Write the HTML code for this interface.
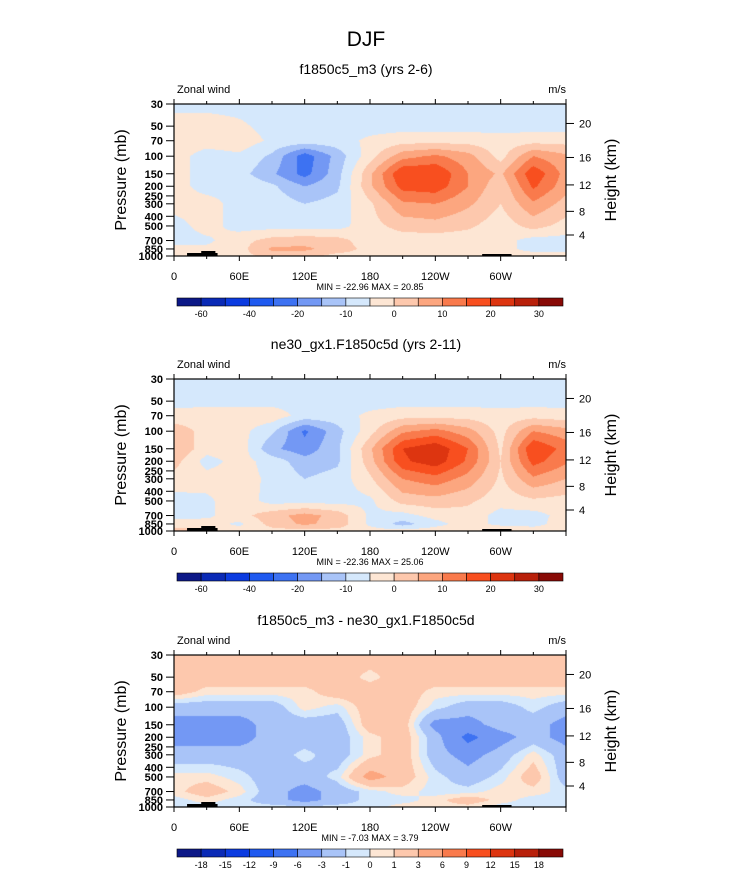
<!DOCTYPE html>
<html><head><meta charset="utf-8"><style>
body{margin:0;background:#fff;width:733px;height:888px;overflow:hidden;position:relative;font-family:"Liberation Sans",sans-serif}
canvas{position:absolute}
svg{position:absolute;left:0;top:0}
</style></head><body>
<div id="root"></div>
<svg id="svg" width="733" height="888"></svg>
<script>
// ---- data ----
const lons = [0,30,60,90,120,150,180,210,240,270,300,330,360];
const pressures = [30,50,70,100,150,200,300,500,700,850,1000];
const panelTitles = ["f1850c5_m3 (yrs 2-6)","ne30_gx1.F1850c5d (yrs 2-11)","f1850c5_m3 - ne30_gx1.F1850c5d"];
const minMaxLabels = ["MIN = -22.96  MAX =  20.85","MIN = -22.36  MAX =  25.06","MIN =  -7.03  MAX =   3.79"];
const levelsAbs = [-60,-50,-40,-30,-20,-15,-10,-5,0,5,10,15,20,25,30];
const levelsDiff = [-18,-15,-12,-9,-6,-3,-1,0,1,3,6,9,12,15,18];
const levelLabelsAbs = ["-60","","-40","","-20","","-10","","0","","10","","20","","30"];
const levelLabelsDiff = ["-18","-15","-12","-9","-6","-3","-1","0","1","3","6","9","12","15","18"];
const palette = ['#0c1887','#0a2ab6','#0b3be0','#1f5af0','#3d72f2','#7398f4','#a9c4f8','#d5e8fc','#fde6d4','#fdc8ad','#fca67f','#f97a4c','#f84f1f','#dd3510','#b8200a','#880a06'];
const field1 = [
[-7,-7,-7,-7,-7,-7,-7,-7,-7,-7,-7,-7,-7],
[-2,-2,-4,-7,-7,-7,-7,-7,-7,-7,-7,-7,-7],
[-2,-3,-2,-6,-7,-7,-4,-2,-2,-2,-3,-2,-2],
[-3,-7,-6,-11,-23,-13,-2,8,11,7,-2,10,6],
[-3,-7,-8,-14,-22,-12,4,20,20,10,4,19,8],
[-3,-7,-6,-9,-15,-11,4,17,18,10,1,16,7],
[-3,-3,-7,-7,-10,-8,-1,9,10,6,0,9,3],
[-7,-3,-7,-7,-7,-7,-2,2,3,1,-3,2,-2],
[-7,-6,-2,2,3,2,-3,-3,-3,-3,-3,-7,-7],
[-3,-4,-2,6,6,3,-2,-2,-3,-3,-3,-7,-7],
[-2,-2,-2,2,2,-2,-2,-2,-3,-2,-3,-2,-2]];
const field2 = [
[-7,-7,-7,-7,-7,-7,-7,-7,-7,-7,-7,-7,-7],
[-7,-7,-7,-7,-7,-7,-7,-7,-7,-7,-7,-7,-7],
[-3,-2,-2,-2,-7,-7,-4,-2,-2,-2,-3,-2,-3],
[3,-2,-3,-9,-21,-12,-2,9,12,7,-2,10,7],
[5,-3,-2,-14,-18,-11,4,20,24,15,-1,20,13],
[2,-7,-3,-7,-13,-11,3,19,23,14,0,17,11],
[-2,-3,-3,-6,-10,-8,-1,10,13,8,-1,9,5],
[-7,-6,-2,-7,-7,-7,-6,2,3,1,-3,-1,-2],
[-7,-6,-2,3,7,3,-6,-7,-3,-2,-7,-7,-3],
[-2,-3,-6,2,6,3,-6,-12,-7,-2,-7,-7,-2],
[2,2,-3,-2,-2,-2,-3,-3,-2,-2,2,-2,-2]];
const field3 = [
[2,2,2,2,2,2,2,2,2,2,2,2,2],
[2,2,2,2,2,2,0.5,2,2,2,2,2,2],
[2,0.5,0.5,0.5,0.5,2,2,2,0.5,0.5,0.5,0.5,0.5],
[-2,-2,-2,-2,0.5,-0.5,2,2,-0.5,-2,-2,-0.5,-2],
[-4,-4,-4,-2,-2,-2,2,2,-4,-4,-2,-2,-4],
[-4,-4,-4,-2,-2,-2,0.5,2,-2,-7,-4,-2,-4],
[-2,-2,-2,-2,-0.5,-2,0.5,2,-2,-4,-2,0.5,-2],
[0.5,0.5,-0.5,-2,-2,-0.5,4,2,-0.5,-2,-0.5,2,-2],
[0.5,2,0.5,-2,-4,-2,-0.5,0.5,-0.5,-0.5,0.5,0.5,-0.5],
[-0.5,0.5,-0.5,-2,-4,-2,-0.5,-0.5,0.5,2,0.5,-0.5,-0.5],
[-0.5,-0.5,-0.5,-0.5,-0.5,-0.5,-0.5,0.5,0.5,0.5,-0.5,-0.5,-0.5]];
const xTickLabels = ["0","60E","120E","180","120W","60W"];
const pTicks = [30,50,70,100,150,200,250,300,400,500,700,850,1000];
const hTicks = [20,16,12,8,4];
const hTickP = [47,103,194,357,616]; // pressure equivalent of height ticks

// ---- layout ----
const X0=174, W=392, H=152, tops=[104,379,655];
const fields=[field1,field2,field3];
const NS="http://www.w3.org/2000/svg";
const svg=document.getElementById('svg');
function el(tag,attrs,parent){const e=document.createElementNS(NS,tag);for(const k in attrs)e.setAttribute(k,attrs[k]);(parent||svg).appendChild(e);return e;}
function xs(lon){return X0+lon/360*W;}
const lp0=Math.log(30),lp1=Math.log(1000);
function ys(p,top){return top+(Math.log(p)-lp0)/(lp1-lp0)*H;}
function txt(s,x,y,size,anchor,parent,name,extra){const t=el('text',Object.assign({x:x,y:y,'font-size':size,'text-anchor':anchor||'middle','font-family':'Liberation Sans, sans-serif',fill:'#000'},extra||{}),parent);t.textContent=s;


return t;}
function colorOf(v,levels){let i=0;while(i<levels.length&&v>=levels[i])i++;return palette[i];}
function sample(f,lon,p){
  let i=Math.min(11,Math.floor(lon/30));let tx=(lon-lons[i])/30;
  let lpv=Math.log(p);let j=0;while(j<pressures.length-2&&Math.log(pressures[j+1])<lpv)j++;
  const a=Math.log(pressures[j]),b=Math.log(pressures[j+1]);let ty=Math.max(0,Math.min(1,(lpv-a)/(b-a)));
  const v00=f[j][i],v01=f[j][i+1],v10=f[j+1][i],v11=f[j+1][i+1];
  return (v00*(1-tx)+v01*tx)*(1-ty)+(v10*(1-tx)+v11*tx)*ty;
}
const t0=txt("DJF",366,46,21,'middle',svg,'figure-title');
fields.forEach((f,k)=>{
  const top=tops[k];const levels=k<2?levelsAbs:levelsDiff;
  const cv=document.createElement('canvas');cv.width=W;cv.height=H;cv.style.left=X0+'px';cv.style.top=top+'px';
  
  
  document.body.insertBefore(cv,svg);
  const ctx=cv.getContext('2d');
  for(let py=0;py<H;py++){const p=Math.exp(lp0+(py+0.5)/H*(lp1-lp0));
    for(let px=0;px<W;px++){const lon=(px+0.5)/W*360;ctx.fillStyle=colorOf(sample(f,lon,p),levels);ctx.fillRect(px,py,1,1);}}
  const g=el('g',{});
  
  
  el('rect',{x:xs(12),y:top+H-3,width:xs(40)-xs(12),height:3,fill:'#000'},g);
  el('rect',{x:xs(25),y:top+H-5,width:xs(38)-xs(25),height:2,fill:'#000'},g);
  el('rect',{x:xs(283),y:top+H-2,width:xs(310)-xs(283),height:2,fill:'#000'},g);
  el('rect',{x:X0,y:top,width:W,height:H,fill:'none',stroke:'#000','stroke-width':1.2},g);
  txt(panelTitles[k],366,top-30,14,'middle',g,'panel-title');
  txt("Zonal wind",X0+3,top-11,11,'start',g,'variable-label');
  txt("m/s",X0+W,top-11,11,'end',g,'units-label');
  for(let lon=0;lon<=360;lon+=30){const x=xs(lon);const L=lon%60==0?5:3;
    el('line',{x1:x,x2:x,y1:top,y2:top-L,stroke:'#000'},g);el('line',{x1:x,x2:x,y1:top+H,y2:top+H+L,stroke:'#000'},g);}
  xTickLabels.forEach((s,i)=>txt(s,xs(i*60),top+H+24,11,'middle',g,'x-tick-label'));
  pTicks.forEach(p=>{const y=ys(p,top);el('line',{x1:X0-8,x2:X0,y1:y,y2:y,stroke:'#000'},g);txt(String(p),X0-11,y+4,11,'end',g,'y-tick-label',{'font-weight':'bold'});});
  hTicks.forEach((h,i)=>{const y=ys(hTickP[i],top);el('line',{x1:X0+W,x2:X0+W+8,y1:y,y2:y,stroke:'#000'},g);txt(String(h),X0+W+13,y+4,11,'start',g,'height-tick-label');});
  txt("Pressure (mb)",0,0,16,'middle',g,'y-axis-title',{transform:`translate(126,${top+H/2}) rotate(-90)`});
  txt("Height (km)",0,0,16,'middle',g,'right-axis-title',{transform:`translate(616,${top+H/2}) rotate(-90)`});
  txt(minMaxLabels[k],370,top+H+34,9,'middle',g,'min-max-label');
  const cy=top+H+42, bx=177, bw=(563-177)/16;
  palette.forEach((c,i)=>{const r=el('rect',{x:bx+i*bw,y:cy,width:bw,height:8,fill:c,stroke:'#000','stroke-width':0.6},g);
    
    });
  const labs=k<2?levelLabelsAbs:levelLabelsDiff;
  labs.forEach((s,i)=>{if(s)txt(s,bx+(i+1)*bw,cy+19,9,'middle',g,'colorbar-label');});
});
</script>
</body></html>
